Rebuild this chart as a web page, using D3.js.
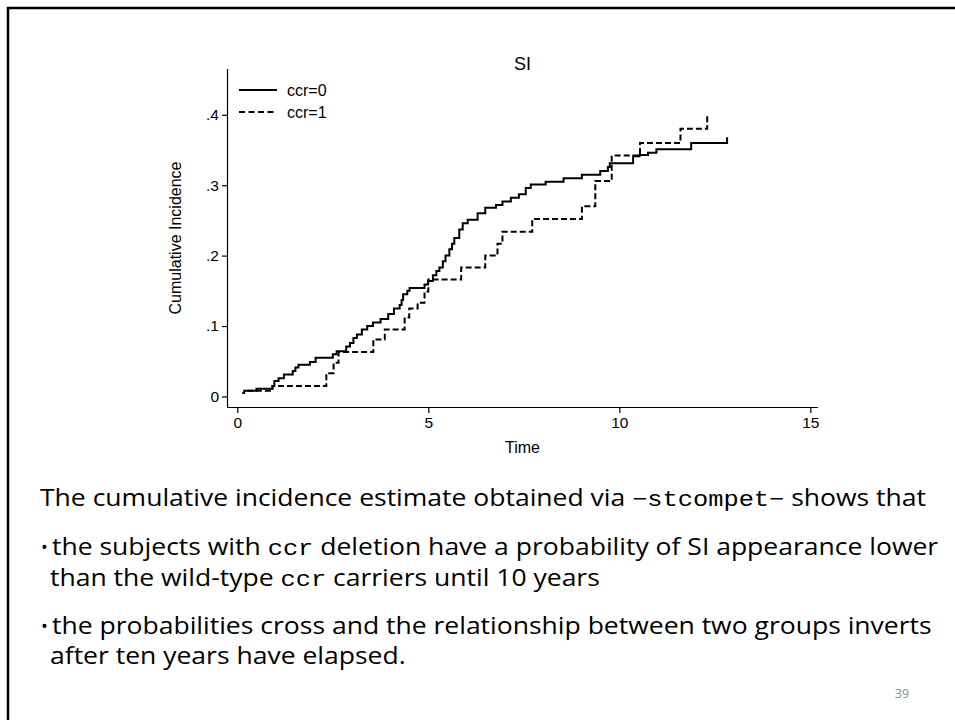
<!DOCTYPE html>
<html>
<head>
<meta charset="utf-8">
<script src="https://cdn.jsdelivr.net/npm/d3@7"></script>
<style>
  body { margin: 0; background: #fff; }
  svg { display: block; }
  .axis path, .axis line { stroke: #000; stroke-width: 1.2; }
  .axis text { font-family: Arial, "Liberation Sans", sans-serif; font-size: 15.5px; fill: #000; }
</style>
</head>
<body>
<svg id="slide" width="955" height="720"></svg>
<script>
// step points: time at which the curve jumps, and the new value
var ccr0Time = [0.13, 0.18, 0.5, 0.92, 0.97, 1.08, 1.22, 1.45, 1.52, 1.6, 1.9, 2.05, 2.5, 2.6, 2.85, 2.95, 3.04, 3.13, 3.26, 3.4, 3.55, 3.75, 3.95, 4.1, 4.25, 4.3, 4.34, 4.45, 4.51, 4.9, 4.99, 5.12, 5.21, 5.29, 5.38, 5.45, 5.55, 5.62, 5.68, 5.81, 5.9, 6.03, 6.29, 6.49, 6.77, 6.94, 7.16, 7.37, 7.55, 7.68, 8.07, 8.54, 9.02, 9.5, 9.7, 9.75, 10.36, 10.53, 10.75, 10.97, 11.88, 12.82];
var ccr0Inc  = [0.005, 0.008, 0.011, 0.015, 0.022, 0.026, 0.031, 0.036, 0.041, 0.045, 0.049, 0.055, 0.06, 0.064, 0.071, 0.076, 0.083, 0.088, 0.095, 0.1, 0.105, 0.11, 0.117, 0.125, 0.13, 0.137, 0.145, 0.15, 0.154, 0.159, 0.164, 0.172, 0.178, 0.183, 0.192, 0.2, 0.209, 0.217, 0.225, 0.237, 0.246, 0.251, 0.26, 0.268, 0.272, 0.277, 0.282, 0.287, 0.296, 0.301, 0.305, 0.31, 0.315, 0.32, 0.326, 0.331, 0.341, 0.343, 0.346, 0.351, 0.36, 0.368];

var ccr1Time = [0.25, 0.92, 2.33, 2.52, 2.65, 3.56, 3.86, 4.38, 4.5, 4.72, 4.9, 5.0, 5.86, 6.49, 6.81, 6.94, 7.72, 9.02, 9.37, 9.8, 10.54, 11.6, 12.3];
var ccr1Inc  = [0.008, 0.015, 0.033, 0.048, 0.063, 0.081, 0.095, 0.112, 0.125, 0.133, 0.149, 0.166, 0.183, 0.2, 0.217, 0.234, 0.252, 0.27, 0.306, 0.342, 0.36, 0.38, 0.4];

var xTicks = [0, 5, 10, 15];
var yTicks = [0, 0.1, 0.2, 0.3, 0.4];
var yTickLabels = ["0", ".1", ".2", ".3", ".4"];
var seriesNames = ["ccr=0", "ccr=1"];

var svg = d3.select("#slide");
var chartFont = "Arial, 'Liberation Sans', sans-serif";

// slide frame (only top and left edges are in view)
svg.append("path")
    .attr("d", "M8,720V8H955")
    .attr("fill", "none")
    .attr("stroke", "#000")
    .attr("stroke-width", 2.5);

var plot = {left: 227, right: 818, top: 69, bottom: 407};

var x = d3.scaleLinear()
    .domain([-0.27, 15.2])
    .range([plot.left, plot.right]);

var y = d3.scaleLinear()
    .domain([-0.015, 0.465])
    .range([plot.bottom, plot.top]);

var xAxis = d3.axisBottom(x).tickValues(xTicks).tickSize(6).tickPadding(4);
var yAxis = d3.axisLeft(y).tickValues(yTicks)
    .tickFormat(function (d, i) { return yTickLabels[i]; })
    .tickSize(5).tickPadding(3);

svg.append("g")
    .attr("class", "axis")
    .attr("transform", "translate(0," + plot.bottom + ")")
    .call(xAxis)
    .call(function (g) { g.select(".domain").attr("d", "M" + plot.left + ",0.5H" + plot.right); });

svg.append("g")
    .attr("class", "axis")
    .attr("transform", "translate(" + plot.left + ",0)")
    .call(yAxis)
    .call(function (g) { g.select(".domain").attr("d", "M0.5," + plot.top + "V" + plot.bottom); });

// titles
svg.append("text")
    .attr("x", (plot.left + plot.right) / 2)
    .attr("y", 70)
    .attr("text-anchor", "middle")
    .style("font-family", chartFont)
    .style("font-size", "18px")
    .text("SI");

svg.append("text")
    .attr("x", (plot.left + plot.right) / 2)
    .attr("y", 453)
    .attr("text-anchor", "middle")
    .style("font-family", chartFont)
    .style("font-size", "16px")
    .text("Time");

svg.append("text")
    .attr("transform", "translate(181," + ((plot.top + plot.bottom) / 2) + ") rotate(-90)")
    .attr("text-anchor", "middle")
    .style("font-family", chartFont)
    .style("font-size", "16px")
    .text("Cumulative Incidence");

// curves
var line = d3.line()
    .x(function (d) { return x(d[0]); })
    .y(function (d) { return y(d[1]); })
    .curve(d3.curveStepAfter);

var ccr0 = d3.zip(ccr0Time, ccr0Inc);
var ccr1 = d3.zip(ccr1Time, ccr1Inc);

svg.append("path")
    .datum(ccr1)
    .attr("d", line)
    .attr("fill", "none")
    .attr("stroke", "#000")
    .attr("stroke-width", 2)
    .attr("stroke-dasharray", "6,3");

svg.append("path")
    .datum(ccr0)
    .attr("d", line)
    .attr("fill", "none")
    .attr("stroke", "#000")
    .attr("stroke-width", 2);

// legend
var legend = svg.append("g").attr("transform", "translate(239,90)");
seriesNames.forEach(function (name, i) {
    var gy = i * 22;
    legend.append("line")
        .attr("x1", 0).attr("x2", 38)
        .attr("y1", gy).attr("y2", gy)
        .attr("stroke", "#000")
        .attr("stroke-width", 2)
        .attr("stroke-dasharray", i == 1 ? "6,3.5" : null);
    legend.append("text")
        .attr("x", 48)
        .attr("y", gy + 6)
        .style("font-family", chartFont)
        .style("font-size", "16px")
        .text(name);
});

// slide text, one horizontal squeeze for all lines so it reads like the narrow slide font
var body = [
    {y: 506, x: 40, parts: [["The cumulative incidence estimate obtained via ", 0], ["\u2212stcompet\u2212", 1], [" shows that", 0]]},
    {y: 555, x: 52, bullet: true, parts: [["the subjects with ", 0], ["ccr", 1], [" deletion have a probability of SI appearance lower", 0]]},
    {y: 586, x: 50, parts: [["than the wild-type ", 0], ["ccr", 1], [" carriers until 10 years", 0]]},
    {y: 634, x: 52, bullet: true, parts: [["the probabilities cross and the relationship between two groups inverts", 0]]},
    {y: 664, x: 50, parts: [["after ten years have elapsed.", 0]]}
];

var texts = [];
body.forEach(function (ln) {
    if (ln.bullet) {
        svg.append("text")
            .attr("x", 41).attr("y", ln.y - 1)
            .style("font-family", "'Open Sans', sans-serif")
            .style("font-size", "18px")
            .text("\u2022");
    }
    var t = svg.append("text")
        .style("font-family", "'Open Sans', sans-serif")
        .style("font-size", "23px")
        .style("fill", "#000");
    ln.parts.forEach(function (p) {
        t.append("tspan")
            .style("font-family", p[1] ? "'Liberation Mono', 'DejaVu Sans Mono', monospace" : null)
            .style("font-size", p[1] ? "22px" : null)
            .text(p[0]);
    });
    texts.push(t);
});

// the last bullet line runs up to about x=932 in the slide
var squeeze = (932 - body[3].x) / texts[3].node().getComputedTextLength();
texts.forEach(function (t, i) {
    t.attr("transform", "translate(" + body[i].x + "," + body[i].y + ") scale(" + squeeze + ",1)");
});

svg.append("text")
    .attr("x", 902).attr("y", 698)
    .attr("text-anchor", "middle")
    .style("font-family", "'Open Sans', sans-serif")
    .style("font-size", "12.5px")
    .style("fill", "#8c8c8c")
    .text("39");
</script>
</body>
</html>
